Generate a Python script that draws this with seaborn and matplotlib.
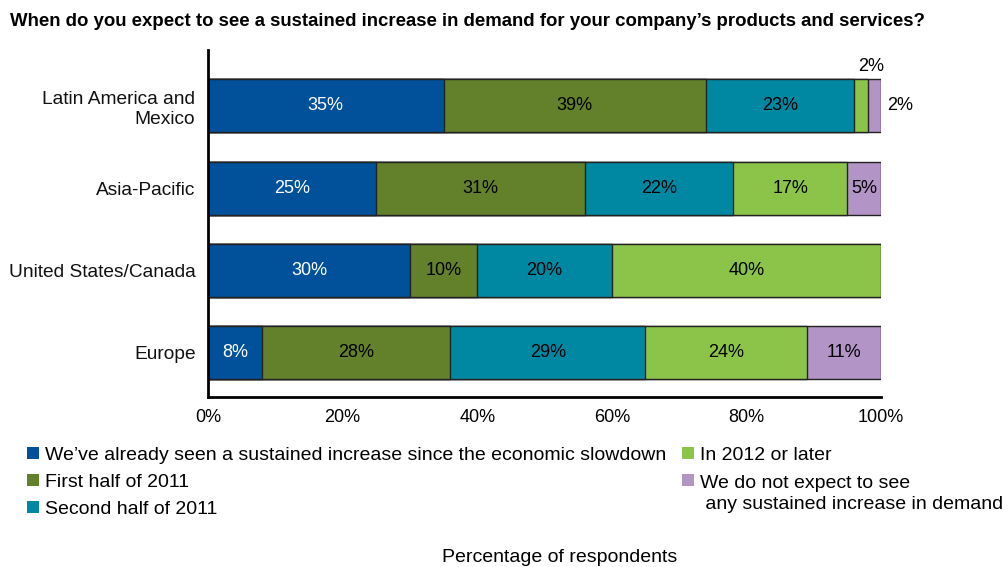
import matplotlib
matplotlib.use("Agg")
import matplotlib.pyplot as plt
import seaborn as sns
import pandas as pd
import numpy as np
from matplotlib.patches import Rectangle

# ---------------- data ----------------
title = "When do you expect to see a sustained increase in demand for your company’s products and services?"
regions = ["Latin America and\nMexico", "Asia-Pacific", "United States/Canada", "Europe"]
series_names = [
    "We’ve already seen a sustained increase since the economic slowdown",
    "First half of 2011",
    "Second half of 2011",
    "In 2012 or later",
    "We do not expect to see\n any sustained increase in demand",
]
already_seen = [35, 25, 30, 8]
first_half_2011 = [39, 31, 10, 28]
second_half_2011 = [22, 22, 20, 29]
in_2012_or_later = [2, 17, 40, 24]
no_increase = [2, 5, 0, 11]
# printed labels (the source prints 23% for the Latin America teal segment)
already_seen_lbl = [35, 25, 30, 8]
first_half_2011_lbl = [39, 31, 10, 28]
second_half_2011_lbl = [23, 22, 20, 29]
in_2012_or_later_lbl = [2, 17, 40, 24]
no_increase_lbl = [2, 5, 0, 11]
x_ticks = [0, 20, 40, 60, 80, 100]
x_tick_labels = ["0%", "20%", "40%", "60%", "80%", "100%"]
x_title = "Percentage of respondents"

colors = ["#00509A", "#63812A", "#0088A3", "#8BC449", "#B394C7"]
label_colors = ["white", "black", "black", "black", "black"]

values = [already_seen, first_half_2011, second_half_2011, in_2012_or_later, no_increase]
labels = [already_seen_lbl, first_half_2011_lbl, second_half_2011_lbl, in_2012_or_later_lbl, no_increase_lbl]

# ---------------- style ----------------
sns.set_theme(style="white")
plt.rcParams["font.family"] = ["Liberation Sans", "DejaVu Sans"]

W, H = 1008, 567
fig = plt.figure(figsize=(W / 100, H / 100), dpi=100)
ax = fig.add_axes([208 / W, 1 - 397 / H, (881 - 208) / W, (397 - 50) / H])

vals = np.array(values, dtype=float)
cum = np.cumsum(vals, axis=0)
starts = cum - vals

# stacked bars: draw cumulative totals from the outermost segment inwards
for i in reversed(range(len(series_names))):
    df = pd.DataFrame({"region": regions, "cum": cum[i]})
    sns.barplot(data=df, x="cum", y="region", order=regions, orient="h",
                color=colors[i], saturation=1, width=0.645, errorbar=None,
                edgecolor="#222222", linewidth=1.0, ax=ax)

ax.set_xlim(0, 100)
ax.set_ylim(3 + 0.54, -0.68)
ax.set_xlabel("")
ax.set_ylabel("")
ax.set_xticks(x_ticks)
ax.set_xticklabels(x_tick_labels)
ax.tick_params(axis="x", direction="in", length=5, width=1.6, colors="black",
               labelsize=13, pad=9)
ax.tick_params(axis="y", length=0, labelsize=13.8, pad=9)
for t in ax.get_yticklabels():
    t.set_color("#111111")
for s in ["top", "right"]:
    ax.spines[s].set_visible(False)
for s in ["left", "bottom"]:
    ax.spines[s].set_color("black")
    ax.spines[s].set_linewidth(2)

# segment labels
for i in range(len(series_names)):
    for j in range(len(regions)):
        v = vals[i, j]
        if v <= 0:
            continue
        txt = f"{labels[i][j]}%"
        if v < 4:
            # small segments are labelled outside the bar
            if i == 3:
                ax.text(cum[i, j] + 0.6, j - 0.38, txt, ha="center", va="bottom",
                        fontsize=13, color="black")
            else:
                ax.text(cum[i, j] + 0.9, j, txt, ha="left", va="center",
                        fontsize=13, color="black", clip_on=False)
            continue
        ax.text(starts[i, j] + v / 2, j, txt, ha="center", va="center",
                fontsize=13, color=label_colors[i])

# title
fig.text(10 / W, 1 - 21 / H, title, ha="left", va="center", fontsize=13.4,
         fontweight="bold", color="black")

# legend (manual, two columns)
sq = 12
line_gap = 22
leg_pos = [(27, 453), (27, 480), (27, 507), (682, 453), (682, 480)]
for i, (lx, ly) in enumerate(leg_pos):
    fig.patches.append(Rectangle((lx / W, 1 - (ly + sq / 2) / H), sq / W, sq / H,
                                 transform=fig.transFigure, facecolor=colors[i],
                                 edgecolor="none"))
    extra = series_names[i].count("\n") * line_gap
    fig.text((lx + 18) / W, 1 - (ly + 7 + extra) / H, series_names[i], ha="left",
             va="baseline", fontsize=14, color="black", linespacing=1.3)

fig.text(560 / W, 1 - 557 / H, x_title, ha="center", va="center", fontsize=14,
         color="black")

fig.savefig("out.png", dpi=100)
